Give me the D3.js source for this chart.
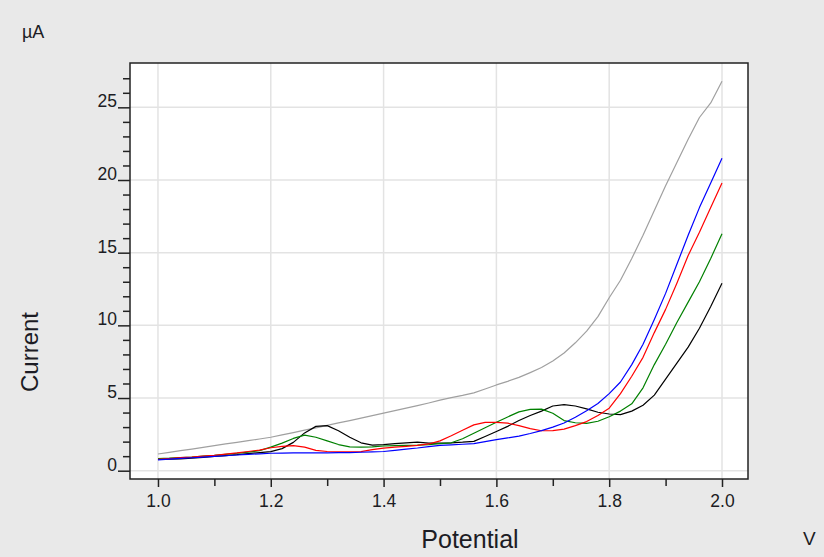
<!DOCTYPE html>
<html>
<head>
<meta charset="utf-8">
<script src="https://cdn.jsdelivr.net/npm/d3@7/dist/d3.min.js"></script>
<style>
  html, body { margin: 0; padding: 0; background: #e9e9e9; }
  svg { display: block; font-family: "Liberation Sans", Arial, sans-serif; }
</style>
</head>
<body>
<svg id="chart" width="824" height="557"></svg>
<script>
// Scan potentials (V), shared by every trace
const potential = d3.range(0, 51).map(i => +(1 + i * 0.02).toFixed(2));

// Current traces (µA)
const currentGray = [
  1.15, 1.26, 1.38, 1.49, 1.61, 1.72, 1.84, 1.95, 2.07, 2.18,
  2.30, 2.46, 2.62, 2.79, 2.95, 3.12, 3.29, 3.45, 3.62, 3.79,
  3.96, 4.13, 4.30, 4.48, 4.66, 4.85, 5.03, 5.18, 5.35, 5.62,
  5.90, 6.15, 6.42, 6.75, 7.10, 7.55, 8.10, 8.80, 9.60, 10.6,
  11.9, 13.1, 14.6, 16.2, 17.9, 19.6, 21.2, 22.8, 24.3, 25.3,
  26.8
];
const currentBlack = [
  0.78, 0.80, 0.82, 0.86, 0.92, 0.98, 1.04, 1.10, 1.18, 1.24,
  1.31, 1.52, 1.95, 2.60, 3.05, 3.10, 2.75, 2.30, 1.92, 1.76,
  1.80, 1.86, 1.92, 1.97, 1.90, 1.90, 1.92, 1.96, 2.02, 2.35,
  2.70, 3.05, 3.45, 3.80, 4.10, 4.45, 4.54, 4.45, 4.25, 4.02,
  3.90, 3.86, 4.10, 4.50, 5.20, 6.30, 7.40, 8.50, 9.80, 11.3,
  12.9
];
const currentGreen = [
  0.84, 0.86, 0.90, 0.94, 1.00, 1.05, 1.12, 1.20, 1.28, 1.38,
  1.62, 1.90, 2.22, 2.45, 2.30, 2.05, 1.80, 1.64, 1.62, 1.64,
  1.70, 1.72, 1.74, 1.76, 1.80, 1.86, 1.92, 2.20, 2.58, 2.95,
  3.33, 3.70, 4.05, 4.22, 4.24, 3.95, 3.45, 3.30, 3.26, 3.40,
  3.71, 4.10, 4.60, 5.70, 7.30, 8.70, 10.2, 11.6, 13.0, 14.6,
  16.3
];
const currentRed = [
  0.78, 0.84, 0.90, 0.94, 1.00, 1.06, 1.14, 1.22, 1.32, 1.42,
  1.58, 1.68, 1.72, 1.62, 1.40, 1.32, 1.30, 1.30, 1.31, 1.45,
  1.55, 1.62, 1.68, 1.74, 1.84, 2.05, 2.40, 2.78, 3.15, 3.32,
  3.33, 3.27, 3.10, 2.90, 2.75, 2.76, 2.86, 3.10, 3.38, 3.80,
  4.30, 5.30, 6.50, 7.80, 9.50, 11.1, 12.9, 14.8, 16.4, 18.1,
  19.8
];
const currentBlue = [
  0.74, 0.80, 0.85, 0.89, 0.93, 0.98, 1.03, 1.08, 1.12, 1.16,
  1.20, 1.21, 1.22, 1.22, 1.23, 1.23, 1.24, 1.25, 1.27, 1.29,
  1.32, 1.40, 1.48, 1.56, 1.66, 1.74, 1.78, 1.82, 1.86, 2.00,
  2.14, 2.26, 2.38, 2.56, 2.76, 3.00, 3.28, 3.68, 4.12, 4.62,
  5.30, 6.10, 7.30, 8.70, 10.4, 12.2, 14.2, 16.2, 18.1, 19.8,
  21.5
];

const traces = [
  { name: "gray",  color: "#a0a0a0", values: currentGray },
  { name: "black", color: "#000000", values: currentBlack },
  { name: "green", color: "#008000", values: currentGreen },
  { name: "red",   color: "#ff0000", values: currentRed },
  { name: "blue",  color: "#0000ff", values: currentBlue }
];

// Axis ticks
const xMajorTicks = [1.0, 1.2, 1.4, 1.6, 1.8, 2.0];
const xMinorTicks = [1.1, 1.3, 1.5, 1.7, 1.9];
const yMajorTicks = [0, 5, 10, 15, 20, 25];
const yMinorTicks = d3.range(1, 28).filter(v => v % 5 !== 0);

const plot = { left: 130, top: 63, right: 748, bottom: 479 };
const textColor = "#1c1c24";

const svg = d3.select("#chart");

svg.append("rect")
  .attr("x", 0).attr("y", 0).attr("width", 824).attr("height", 557)
  .attr("fill", "#e9e9e9");

const x = d3.scaleLinear().domain([0.9504, 2.0461]).range([plot.left, plot.right]);
const y = d3.scaleLinear().domain([-0.571, 28.05]).range([plot.bottom, plot.top]);

// Plot area
svg.append("rect")
  .attr("x", plot.left).attr("y", plot.top)
  .attr("width", plot.right - plot.left).attr("height", plot.bottom - plot.top)
  .attr("fill", "#ffffff");

// Grid
const grid = svg.append("g").attr("stroke", "#e3e3e3").attr("stroke-width", 1.5);
grid.selectAll("line.gx").data(xMajorTicks).join("line")
  .attr("x1", d => x(d)).attr("x2", d => x(d))
  .attr("y1", plot.top).attr("y2", plot.bottom);
grid.selectAll("line.gy").data(yMajorTicks).join("line")
  .attr("class", "gy")
  .attr("x1", plot.left).attr("x2", plot.right)
  .attr("y1", d => y(d)).attr("y2", d => y(d));

// Traces
const line = d3.line()
  .x((d, i) => x(potential[i]))
  .y(d => y(d));

svg.append("clipPath").attr("id", "plotClip")
  .append("rect")
  .attr("x", plot.left).attr("y", plot.top)
  .attr("width", plot.right - plot.left).attr("height", plot.bottom - plot.top);

svg.append("g").attr("clip-path", "url(#plotClip)")
  .selectAll("path").data(traces).join("path")
  .attr("d", d => line(d.values))
  .attr("fill", "none")
  .attr("stroke", d => d.color)
  .attr("stroke-width", 1.2)
  .attr("stroke-linejoin", "round");

// Frame
svg.append("rect")
  .attr("x", plot.left).attr("y", plot.top)
  .attr("width", plot.right - plot.left).attr("height", plot.bottom - plot.top)
  .attr("fill", "none").attr("stroke", "#222").attr("stroke-width", 1.5);

// Y axis: major ticks with labels, minor ticks
const yMinorAxis = d3.axisLeft(y).tickValues(yMinorTicks).tickSize(7).tickFormat("");
const yMajorAxis = d3.axisLeft(y).tickValues(yMajorTicks).tickSize(12).tickFormat(d3.format("d"));

const gyMinor = svg.append("g").attr("transform", `translate(${plot.left},0)`).call(yMinorAxis);
const gyMajor = svg.append("g").attr("transform", `translate(${plot.left},0)`).call(yMajorAxis);
[gyMinor, gyMajor].forEach(g => {
  g.select(".domain").remove();
  g.selectAll(".tick line").attr("stroke", "#222").attr("stroke-width", 1.5);
});
gyMajor.selectAll(".tick text")
  .attr("x", -13).attr("dy", null).attr("y", -0.5)
  .attr("fill", textColor)
  .attr("font-size", 17.5)
  .attr("font-family", "Liberation Sans, Arial, sans-serif");

// X axis
const xMinorAxis = d3.axisBottom(x).tickValues(xMinorTicks).tickSize(7).tickFormat("");
const xMajorAxis = d3.axisBottom(x).tickValues(xMajorTicks).tickSize(8).tickFormat(d3.format(".1f"));
const gxMinor = svg.append("g").attr("transform", `translate(0,${plot.bottom})`).call(xMinorAxis);
const gxMajor = svg.append("g").attr("transform", `translate(0,${plot.bottom})`).call(xMajorAxis);
[gxMinor, gxMajor].forEach(g => {
  g.select(".domain").remove();
  g.selectAll(".tick line").attr("stroke", "#222").attr("stroke-width", 1.5);
});
gxMajor.selectAll(".tick text")
  .attr("y", 27.5).attr("dy", null)
  .attr("fill", textColor)
  .attr("font-size", 17.5)
  .attr("font-family", "Liberation Sans, Arial, sans-serif");

// Titles and units
svg.append("text")
  .attr("x", 22).attr("y", 38)
  .attr("fill", textColor).attr("font-size", 18)
  .text("µA");

svg.append("text")
  .attr("transform", "translate(38,352) rotate(-90)")
  .attr("text-anchor", "middle")
  .attr("fill", textColor).attr("font-size", 24)
  .text("Current");

svg.append("text")
  .attr("x", 470).attr("y", 548)
  .attr("text-anchor", "middle")
  .attr("fill", textColor).attr("font-size", 25)
  .text("Potential");

svg.append("text")
  .attr("x", 803).attr("y", 545)
  .attr("fill", textColor).attr("font-size", 19)
  .text("V");
</script>
</body>
</html>
